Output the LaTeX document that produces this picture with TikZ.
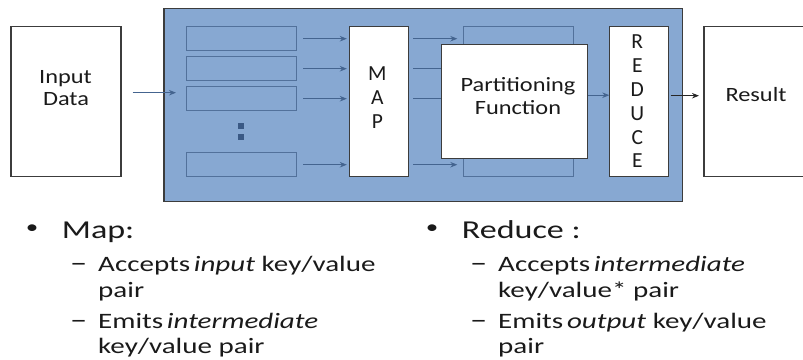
\documentclass[tikz,border=0pt]{standalone}
\usepackage{fontspec}
\setmainfont{Carlito}
\newfontfamily\diagfont{Carlito}[FakeStretch=1.2]
\newfontfamily\plainfont{Carlito}
\newfontfamily\listfont{Carlito}[FakeStretch=1.32]
\usetikzlibrary{arrows.meta}
\definecolor{bluebg}{HTML}{87A8D2}
\definecolor{rectedge}{HTML}{52719B}
\definecolor{arrowblue}{HTML}{44648F}
\definecolor{boxedge}{HTML}{3C3C3C}
\definecolor{dotblue}{HTML}{3A5985}
\definecolor{txt}{HTML}{1A1A1A}
\tikzset{
  whitebox/.style={draw=boxedge, line width=1.2pt, fill=white, inner sep=0pt, outer sep=0pt, anchor=north west},
  slot/.style={draw=rectedge, line width=1pt, fill=bluebg, inner sep=0pt, outer sep=0pt, anchor=north west, minimum width=110, minimum height=24},
  dotsq/.style={fill=dotblue, inner sep=0pt, minimum size=6},
  flow/.style={draw=arrowblue, line width=0.9pt, -{Stealth[length=7pt,width=5.5pt]}},
  flowk/.style={draw=black!85, line width=0.9pt, -{Stealth[length=7pt,width=5.5pt]}},
  dlabel/.style={anchor=base, inner sep=0pt, text=txt, font=\diagfont\fontsize{20.3}{24}\selectfont},
  letter/.style={anchor=base, inner sep=0pt, text=txt, font=\plainfont\fontsize{21.5}{24}\selectfont},
  head/.style={anchor=base west, inner sep=0pt, text=txt, font=\listfont\fontsize{25.8}{30}\selectfont},
  sub/.style={anchor=base west, inner sep=0pt, text=txt, font=\listfont\fontsize{22}{26}\selectfont},
  subdash/.style={anchor=base west, inner sep=0pt, text=txt, font=\listfont\fontsize{26}{26}\selectfont},
  bul/.style={anchor=center, inner sep=0pt, text=txt, font=\listfont\fontsize{19}{22}\selectfont},
}
\begin{document}
\begin{tikzpicture}[x=1pt,y=-1pt]
\useasboundingbox (0,0) rectangle (803,359);
\clip (0,0) rectangle (803,359);

% input box
\node[whitebox, minimum width=110, minimum height=150] (inbox) at (11,26.7) {};
\node[dlabel] (inl1) at (65.5,83.5) {Input};
\node[dlabel] (inl2) at (66,105) {Data};

% big blue stage
\node[draw=boxedge, line width=1.5pt, fill=bluebg, inner sep=0pt, outer sep=0pt, anchor=north west,
      minimum width=518.5, minimum height=193.2] (stage) at (164,8.3) {};

% input arrow
\coordinate (inend) at (176,92.7);
\draw[flow] ([xshift=11.7]inbox.east |- inend) -- (inend);

% slots
\node[slot] (s1) at (186,26.7) {};
\node[slot] (s2) at (186,56.7) {};
\node[slot] (s3) at (186,86.7) {};
\node[slot] (s4) at (186,152.7) {};
\node[dotsq] (d1) at (240.8,125.7) {};
\node[dotsq] (d2) at (240.8,137.3) {};

% map box
\node[whitebox, minimum width=59, minimum height=150] (mapbox) at (349.3,26.7) {};
\node[letter] (mM) at (377.3,80) {M};
\node[letter] (mA) at (377.3,104) {A};
\node[letter] (mP) at (377.3,128.3) {P};

% slots -> map
\foreach \s in {s1,s2,s3,s4}
  \draw[flow, shorten <=7pt, shorten >=2.5pt] (\s.east) -- (\s.east -| mapbox.west);

% back slot behind partitioning
\node[slot, minimum height=150] (back) at (463.3,26.7) {};

% map -> back
\foreach \s in {s1,s2,s3,s4}
  \draw[flow, shorten <=4.7pt, shorten >=6pt] (\s.east -| mapbox.east) -- (\s.east -| back.west);

% partitioning function
\node[whitebox, minimum width=146, minimum height=114] (part) at (441.7,44.7) {};
\node[dlabel] (pl1) at (518,91) {Partitioning};
\node[dlabel] (pl2) at (518,114.5) {Function};

% reduce box
\node[whitebox, minimum width=59, minimum height=150] (redbox) at (609.3,26.7) {};
\node[letter] (rR) at (637.3,48.3) {R};
\node[letter] (rE1) at (637.3,72) {E};
\node[letter] (rD) at (637.3,96) {D};
\node[letter] (rU) at (637.3,120) {U};
\node[letter] (rC) at (637.3,144) {C};
\node[letter] (rE2) at (637.3,167.7) {E};

\coordinate (py) at (600,95.2);
\draw[flow] (part.east |- py) -- (redbox.west |- py);

% result box
\node[whitebox, minimum width=106, minimum height=150] (resbox) at (704,26.7) {};
\node[dlabel] (resl) at (756,101) {Result};
\coordinate (ry) at (690,95.7);
\draw[flowk, shorten <=2.4pt, shorten >=5pt] (redbox.east |- ry) -- (resbox.west |- ry);

% bullet text, left
\node[bul] (lb) at (32,229) {•};
\node[head] (lh) at (61.7,238.3) {Map:};
\node[subdash] (ld1) at (70,271.7) {–};
\node[sub] (l1) at (98,271.7) {Accepts\,\textit{input} key/value};
\node[sub] (l2) at (98,297) {pair};
\node[subdash] (ld2) at (70,328.3) {–};
\node[sub] (l3) at (98,328.3) {Emits\,\textit{intermediate}};
\node[sub] (l4) at (98,353) {key/value pair};

% bullet text, right
\node[bul] (rb) at (432,229) {•};
\node[head] (rh) at (461.7,238.3) {Reduce :};
\node[subdash] (rd1) at (470,271.7) {–};
\node[sub] (r1) at (498,271.7) {Accepts\,\textit{intermediate}};
\node[sub] (r2) at (498,297) {key/value* pair};
\node[subdash] (rd2) at (470,328.3) {–};
\node[sub] (r3) at (498,328.3) {Emits\,\textit{output} key/value};
\node[sub] (r4) at (498,353) {pair};
\end{tikzpicture}
\end{document}
